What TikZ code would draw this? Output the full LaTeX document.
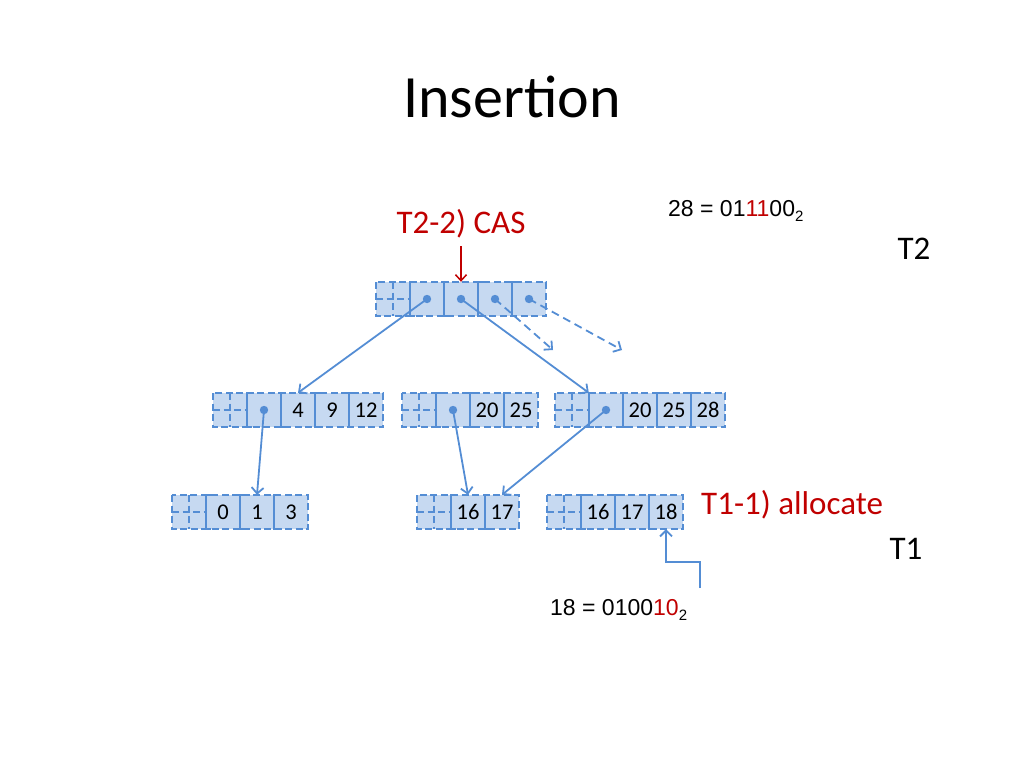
\documentclass[tikz,border=0pt]{standalone}
\usepackage{fontspec}
\setmainfont{Carlito}
\newfontfamily\arialf{Liberation Sans}
\usetikzlibrary{arrows.meta,calc}
\definecolor{cellfill}{RGB}{198,217,241}
\definecolor{lblue}{RGB}{84,141,212}
\definecolor{dred}{RGB}{192,0,0}
\tikzset{
  dline/.style={draw=lblue, line width=1.8pt, dash pattern=on 7pt off 3.5pt},
  sline/.style={draw=lblue, line width=1.8pt},
  cell/.style={minimum width=34pt, minimum height=34pt, inner sep=0pt, text height=14.5pt, text depth=0pt, font=\fontsize{22.5}{25}\selectfont},
  arr/.style={draw=lblue, line width=1.8pt, -{Straight Barb[length=6pt,width=12pt,line width=1.8pt]}},
  darr/.style={arr, dash pattern=on 8pt off 5pt},
  rarr/.style={draw=dred, line width=1.5pt, -{Straight Barb[length=6pt,width=11pt,line width=1.5pt]}},
  lbl/.style={inner sep=0pt, font=\fontsize{33}{38}\selectfont},
  bin/.style={inner sep=0pt, font=\arialf\fontsize{23}{26}\selectfont},
}
\newcommand{\btnode}[5]{% name, left, top, count, contents
  \fill[cellfill] (#2,#3) rectangle (#2+34+34*#4,#3+34);
  \draw[dline] (#2+17,#3) -- (#2+17,#3+34);
  \draw[dline] (#2,#3+17) -- (#2+34,#3+17);
  \foreach \c [count=\i] in {#5} {
    \node[cell] (#1-\i) at (#2+17+34*\i,#3+17) {\c};
    \draw[sline] ($(#1-\i.north west)+(5pt,0)$) -- (#1-\i.north west) -- (#1-\i.south west) -- ($(#1-\i.south west)+(5pt,0)$);
  }
  \draw[dline] (#2,#3) rectangle (#2+34+34*#4,#3+34);
}
\newcommand{\subtwo}{\raisebox{-5pt}{\fontsize{15}{15}\selectfont 2}}
\begin{document}
\begin{tikzpicture}[x=1pt,y=-1pt]
\useasboundingbox (0,0) rectangle (1024,768);
\node[inner sep=0pt, font=\fontsize{60}{70}\selectfont] (title) at (512,97) {Insertion};

% tree nodes
\btnode{top}{376}{282}{4}{{},{},{},{}}
\btnode{ml}{213}{393}{4}{{},4,9,12}
\btnode{mc}{402}{393}{3}{{},20,25}
\btnode{mr}{555}{393}{4}{{},20,25,28}
\btnode{bl}{172}{495}{3}{0,1,3}
\btnode{bc}{417}{495}{2}{16,17}
\btnode{br}{547}{495}{3}{16,17,18}

% pointer dots
\foreach \n in {top-1,top-2,top-3,top-4,ml-1,mc-1,mr-1}
  \fill[lblue] (\n.center) circle (4.2pt);

% free ends
\coordinate (d1) at (553,350);
\coordinate (d2) at (622,350);
\coordinate (e1) at (700,588);
\coordinate (e2) at (700,562);

% connectors
\draw[arr] (top-1.center) -- (ml-2.north);
\draw[arr] (top-2.center) -- (mr-1.north west);
\draw[darr] (top-3.center) -- (d1);
\draw[darr] (top-4.center) -- (d2);
\draw[arr] (ml-1.center) -- (bl-2.north);
\draw[arr] (mc-1.center) -- (bc-1.north);
\draw[arr] (mr-1.center) -- (bc-2.north);
\draw[arr] (e1) -- (e2) -| (br-3.south);

% labels
\node[lbl, text=dred] (cas) at (461,224) {T2-2) CAS};
\draw[rarr] (cas.south |- 0,246) -- (top-2.north);
\node[lbl] (t2) at (914,249) {T2};
\node[lbl, text=dred, anchor=west] (alloc) at (701,505) {T1-1) allocate};
\node[lbl] (t1) at (906,549) {T1};
\node[bin, anchor=west] (b28) at (668,211) {28 = 01\textcolor{dred}{11}00\subtwo};
\node[bin, anchor=west] (b18) at (550,610) {18 = 0100\textcolor{dred}{10}\subtwo};
\end{tikzpicture}
\end{document}
